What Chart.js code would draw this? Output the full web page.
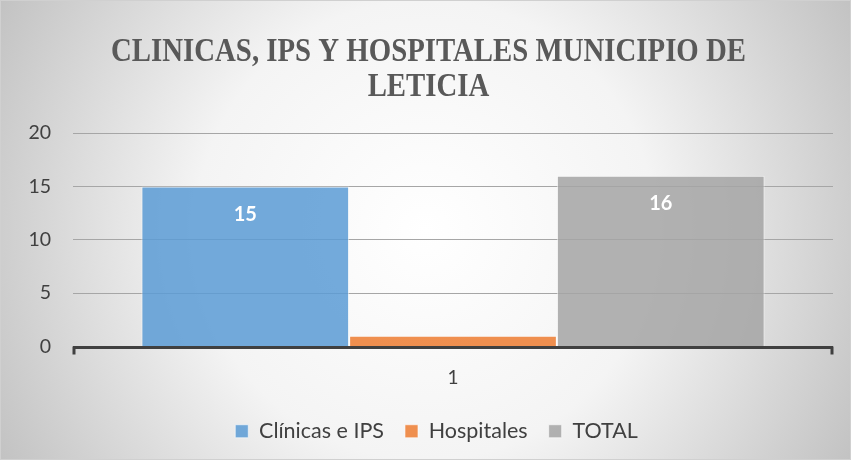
<!DOCTYPE html>
<html><head><meta charset="utf-8">
<script src="https://cdn.jsdelivr.net/npm/chart.js@4"></script>
<style>html,body{margin:0;padding:0;background:#fff}#wrap{width:851px;height:460px}</style>
</head><body><div id="wrap"><canvas id="c" width="851" height="460"></canvas></div>
<script>
const categories = ["1"];
const seriesNames = ["Clínicas e IPS", "Hospitales", "TOTAL"];
const clinicas = [15];
const hospitales = [1];
const total = [16];
const yTicks = [0, 5, 10, 15, 20];
const titleLines = ["CLINICAS, IPS Y HOSPITALES MUNICIPIO DE", "LETICIA"];

const bgPlugin = {
  id: 'bg',
  beforeDraw(chart) {
    const {ctx, width, height} = chart;
    ctx.save();
    const g = ctx.createRadialGradient(width/2, height/2, 0, width/2, height/2, width*0.6);
    g.addColorStop(0, '#ffffff');
    g.addColorStop(0.45, '#f4f4f4');
    g.addColorStop(1, '#bdbdbd');
    ctx.fillStyle = g;
    ctx.fillRect(0, 0, width, height);
    ctx.strokeStyle = '#d0d0d0';
    ctx.lineWidth = 1;
    ctx.strokeRect(0.5, 0.5, width-1, height-1);
    ctx.restore();
  }
};
const titlePlugin = {
  id: 'condTitle',
  afterDraw(chart) {
    const {ctx, width} = chart;
    ctx.save();
    ctx.font = 'bold 33px "Liberation Serif", serif';
    ctx.fillStyle = '#595959';
    ctx.textAlign = 'center';
    ctx.textBaseline = 'alphabetic';
    const w1 = ctx.measureText(titleLines[0]).width;
    const sx = 635 / w1;
    const cx = width / 2 + 3;
    titleLines.forEach((t, i) => {
      ctx.save();
      ctx.translate(cx, 61 + i * 35);
      ctx.scale(sx, 1);
      ctx.fillText(t, 0, 0);
      ctx.restore();
    });
    ctx.restore();
  }
};
const legendShift = {
  id: 'legendShift',
  afterLayout(chart) {
    if (chart.legend) { chart.legend.left += 13; chart.legend.right += 13; }
  }
};
const axisPlugin = {
  id: 'axisLine',
  afterDatasetsDraw(chart) {
    const {ctx, chartArea} = chart;
    const y = chart.scales.y.getPixelForValue(0);
    ctx.save();
    ctx.strokeStyle = '#404040';
    ctx.lineWidth = 3;
    ctx.beginPath();
    ctx.moveTo(chartArea.left, y + 1);
    ctx.lineTo(chartArea.right, y + 1);
    ctx.stroke();
    ctx.beginPath();
    ctx.moveTo(chartArea.left + 1, y); ctx.lineTo(chartArea.left + 1, y + 8);
    ctx.moveTo(chartArea.right - 1, y); ctx.lineTo(chartArea.right - 1, y + 8);
    ctx.stroke();
    ctx.restore();
  }
};
const labelPlugin = {
  id: 'vlabels',
  afterDatasetsDraw(chart) {
    const {ctx} = chart;
    ctx.save();
    ctx.fillStyle = '#ffffff';
    ctx.font = 'bold 20px Lato, sans-serif';
    ctx.textAlign = 'center';
    ctx.textBaseline = 'middle';
    chart.data.datasets.forEach((ds, i) => {
      if (ds.data[0] < 5) return;
      chart.getDatasetMeta(i).data.forEach((el, j) => {
        ctx.fillText(String(ds.data[j]), el.x, el.y + 28);
      });
    });
    ctx.restore();
  }
};

new Chart(document.getElementById('c'), {
  type: 'bar',
  data: {
    labels: categories,
    datasets: [
      {label: seriesNames[0], data: clinicas, backgroundColor: 'rgba(91,155,213,0.85)', borderColor: 'rgba(255,255,255,0.6)', borderWidth: 1},
      {label: seriesNames[1], data: hospitales, backgroundColor: 'rgba(237,125,49,0.85)', borderColor: 'rgba(255,255,255,0.6)', borderWidth: 1},
      {label: seriesNames[2], data: total, backgroundColor: 'rgba(165,165,165,0.85)', borderColor: 'rgba(255,255,255,0.6)', borderWidth: 1}
    ]
  },
  options: {
    responsive: false,
    animation: false,
    datasets: {bar: {categoryPercentage: 0.82, barPercentage: 1}},
    layout: {padding: {left: 14, right: 18, top: 133, bottom: 8}},
    plugins: {
      title: {display: false},
      legend: {position: 'bottom', labels: {color: '#404040', font: {family: 'Lato, sans-serif', size: 21.5}, boxWidth: 13, boxHeight: 13, padding: 21}},
      tooltip: {enabled: false}
    },
    scales: {
      x: {
        grid: {display: false, drawTicks: false},
        border: {display: false},
        ticks: {color: '#404040', font: {family: 'Lato, sans-serif', size: 19}, padding: 20},
        afterFit(s) { s.height = 53; }
      },
      y: {
        min: 0, max: 20,
        afterBuildTicks(s) { s.ticks = yTicks.map(v => ({value: v})); },
        afterFit(s) { s.width = 59; },
        grid: {color: '#a6a6a6', lineWidth: 1, drawTicks: false},
        border: {display: false},
        ticks: {color: '#404040', font: {family: 'Lato, sans-serif', size: 19.5}, padding: 22}
      }
    }
  },
  plugins: [bgPlugin, legendShift, axisPlugin, labelPlugin, titlePlugin]
});
</script></body></html>
